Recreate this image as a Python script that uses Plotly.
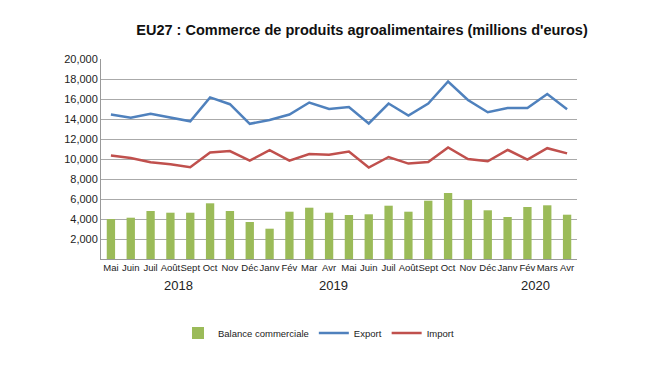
import plotly.graph_objects as go

months = ["Mai", "Juin", "Juil", "Août", "Sept", "Oct", "Nov", "Déc", "Janv", "Fév", "Mar", "Avr",
          "Mai", "Juin", "Juil", "Août", "Sept", "Oct", "Nov", "Déc", "Janv", "Fév", "Mars", "Avr"]
export = [14450, 14130, 14520, 14130, 13770, 16160, 15480, 13520, 13900, 14450, 15650, 15000,
          15190, 13550, 15550, 14350, 15550, 17750, 15900, 14680, 15100, 15100, 16500, 14970]
imports = [10360, 10100, 9670, 9480, 9180, 10650, 10790, 9840, 10890, 9840, 10490, 10430,
           10750, 9150, 10200, 9540, 9700, 11150, 10000, 9770, 10920, 9930, 11080, 10560]
balance = [4000, 4130, 4800, 4630, 4630, 5570, 4800, 3700, 3030, 4730, 5130, 4630,
           4400, 4470, 5330, 4730, 5830, 6600, 5900, 4870, 4200, 5200, 5370, 4430]
years = ["2018", "2019", "2020"]
year_pos = [3.4, 11.2, 21.4]
yticks = [2000, 4000, 6000, 8000, 10000, 12000, 14000, 16000, 18000, 20000]

x = list(range(len(months)))

fig = go.Figure()
fig.add_trace(go.Bar(x=x, y=balance, name="Balance commerciale",
                     marker=dict(color="#9BBB59", line=dict(width=0)), width=0.42))
fig.add_trace(go.Scatter(x=x, y=export, name="Export", mode="lines",
                         line=dict(color="#4F81BD", width=2.5)))
fig.add_trace(go.Scatter(x=x, y=imports, name="Import", mode="lines",
                         line=dict(color="#C0504D", width=2.5)))

for yr, p in zip(years, year_pos):
    fig.add_annotation(x=p, y=-0.13, xref="x", yref="paper", text=yr, showarrow=False,
                       font=dict(size=13, color="#222"), yanchor="middle")

fig.update_layout(
    width=650, height=366,
    margin=dict(l=101, r=73, t=59, b=107),
    paper_bgcolor="white", plot_bgcolor="white",
    font=dict(family="Liberation Sans, Arial, sans-serif", color="#222"),
    title=dict(text="<b>EU27 : Commerce de produits agroalimentaires (millions d'euros)</b>",
               x=0.557, xanchor="center", xref="container",
               y=1 - 30 / 366, yanchor="middle", yref="container",
               font=dict(size=14.5, color="#111")),
    showlegend=True,
    legend=dict(orientation="h", x=0.49, xanchor="center", xref="container",
                y=1 - 333 / 366, yanchor="middle", yref="container",
                font=dict(size=9.5, color="#222"), itemwidth=30, bgcolor="rgba(0,0,0,0)"),
    bargap=0.58,
)
fig.update_xaxes(range=[-0.5, len(months) - 0.5], tickmode="array", tickvals=x, ticktext=months,
                 tickfont=dict(size=9.5, color="#222"), showline=True, linecolor="#999",
                 linewidth=1, showgrid=False, ticks="", tickangle=0, automargin=False)
fig.update_yaxes(range=[0, 20000], tickmode="array", tickvals=yticks,
                 ticktext=[f"{v:,}" for v in yticks], tickfont=dict(size=11, color="#222"),
                 showgrid=True, gridcolor="#aaa", gridwidth=1, showline=True, linecolor="#999",
                 linewidth=1, zeroline=False, ticks="", automargin=False)

fig.write_html("out.html", config={"displayModeBar": False},
               post_script="document.body.style.margin='0';document.body.style.overflow='hidden';")
